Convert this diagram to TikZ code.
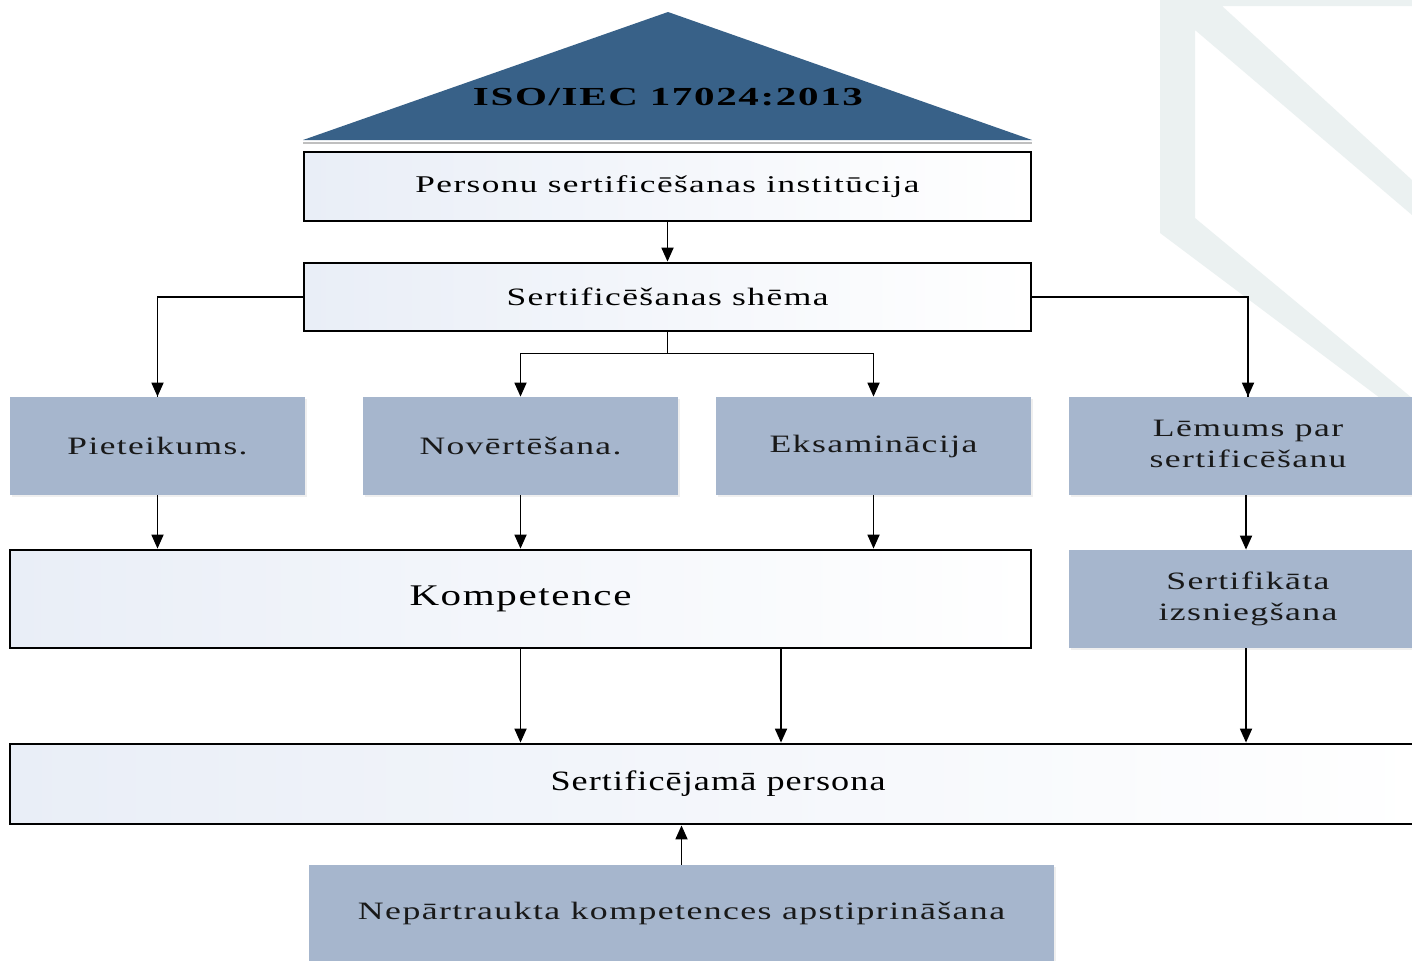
\documentclass[tikz,border=0pt]{standalone}
\usepackage{fontspec}
\usepackage{graphicx}
\setmainfont{Liberation Serif}
\usetikzlibrary{arrows.meta,shadows}
\definecolor{tri}{HTML}{386188}
\definecolor{bluebox}{HTML}{A6B6CD}
\definecolor{grad}{HTML}{E9EEF7}
\definecolor{wm}{HTML}{EBF1F1}
\newcommand{\fw}[2]{\resizebox{#1}{\height}{#2}}
\newcommand{\twol}[2]{\begin{tabular}{@{}c@{}}#1\\#2\end{tabular}}
\tikzset{
  whitebox/.style={draw=black, line width=1.4pt, left color=grad, right color=white, inner sep=0pt, align=center, text=black},
  bluefill/.style={fill=bluebox, inner sep=0pt, align=center, text=black!90, drop shadow={opacity=0.12, shadow xshift=1pt, shadow yshift=-1pt}},
  arr/.style={line width=0.9pt, -{Triangle[length=7pt,width=6pt]}},
  thinline/.style={line width=0.7pt},
  lbl/.style={font=\fontsize{12.5}{15.5}\selectfont\addfontfeature{LetterSpace=4}},
}
\begin{document}
\begin{tikzpicture}[x=0.5pt,y=-0.5pt]
\useasboundingbox (0,0) rectangle (1412,960);
\clip (0,0) rectangle (1412,960);
\fill[white] (0,0) rectangle (1412,960);
% watermark
\fill[wm] (1160,-5) -- (1420,-5) -- (1420,6) -- (1222,6) -- (1412,180) -- (1412,215) -- (1195,30) -- (1195,218) -- (1412,398) -- (1380,398) -- (1160,233) -- cycle;
% triangle
\fill[black!25] (303,142) -- (1032,142) -- (1032,144) -- (303,144) -- cycle;
\fill[tri] (303,140) -- (668,12) -- (1032,140) -- cycle;
\node[font=\fontsize{13}{15}\selectfont\bfseries\addfontfeature{LetterSpace=4}, text=black] (iso) at (668,97) {\fw{195pt}{ISO/IEC 17024:2013}};
% boxes
\node[whitebox, font=\fontsize{12}{15}\selectfont\addfontfeature{LetterSpace=4}, minimum width=363.5pt, minimum height=34.5pt] (inst) at (667.5,186.5) {\fw{252pt}{Personu sertificēšanas institūcija}};
\node[whitebox, font=\fontsize{12.5}{15}\selectfont\addfontfeature{LetterSpace=4}, minimum width=363.5pt, minimum height=34pt] (schema) at (667.5,297) {\fw{161pt}{Sertificēšanas shēma}};
\node[bluefill, lbl, minimum width=147.5pt, minimum height=49pt] (piet) at (157.5,446) {\fw{90pt}{Pieteikums.}};
\node[bluefill, lbl, minimum width=157.5pt, minimum height=49pt] (nov) at (520.5,446) {\fw{101pt}{Novērtēšana.}};
\node[bluefill, lbl, minimum width=157.5pt, minimum height=49pt] (eks) at (873.5,446) {\fw{104pt}{Eksaminācija}};
\node[bluefill, lbl, minimum width=179pt, minimum height=49pt] (lem) at (1248,446) {\fw{98.5pt}{\twol{Lēmums par}{sertificēšanu}}};
\node[whitebox, font=\fontsize{15}{18}\selectfont\addfontfeature{LetterSpace=4}, minimum width=510.5pt, minimum height=49pt] (komp) at (520.5,599) {\fw{111pt}{Kompetence}};
\node[bluefill, lbl, minimum width=179pt, minimum height=49pt] (sert) at (1248,599) {\fw{89.5pt}{\twol{Sertifikāta}{izsniegšana}}};
\node[whitebox, font=\fontsize{14}{17}\selectfont\addfontfeature{LetterSpace=3}, minimum width=708pt, minimum height=40pt] (pers) at (718,784) {\fw{167.5pt}{Sertificējamā persona}};
\node[bluefill, lbl, minimum width=372.5pt, minimum height=48pt] (nep) at (681.5,913) {\fw{323.5pt}{Nepārtraukta kompetences apstiprināšana}};
% connectors
\draw[arr] (inst.south) -- (schema.north);
\draw[thinline] (schema.west) -| coordinate[pos=0.5] (cl) (piet.north);
\draw[arr] (cl) -- (piet.north);
\draw[thinline] (schema.east) -| coordinate[pos=0.5] (cr) (lem.north);
\draw[arr] (cr) -- (lem.north -| cr);
\path (schema.south) ++(0,21) coordinate (split);
\draw[thinline] (schema.south) -- (split);
\draw[thinline] (split -| nov.north) -- (split -| eks.north);
\draw[arr] (split -| nov.north) -- (nov.north);
\draw[arr] (split -| eks.north) -- (eks.north);
\draw[arr] (piet.south) -- (piet.south |- komp.north);
\draw[arr] (nov.south) -- (nov.south |- komp.north);
\draw[arr] (eks.south) -- (eks.south |- komp.north);
\draw[arr] (lem.south -| 1246,0) -- (sert.north -| 1246,0);
\draw[arr] (komp.south) -- (komp.south |- pers.north);
\draw[arr] (komp.south -| 781,0) -- (pers.north -| 781,0);
\draw[arr] (sert.south -| 1246,0) -- (pers.north -| 1246,0);
\draw[arr] (nep.north) -- (nep.north |- pers.south);
\end{tikzpicture}
\end{document}
